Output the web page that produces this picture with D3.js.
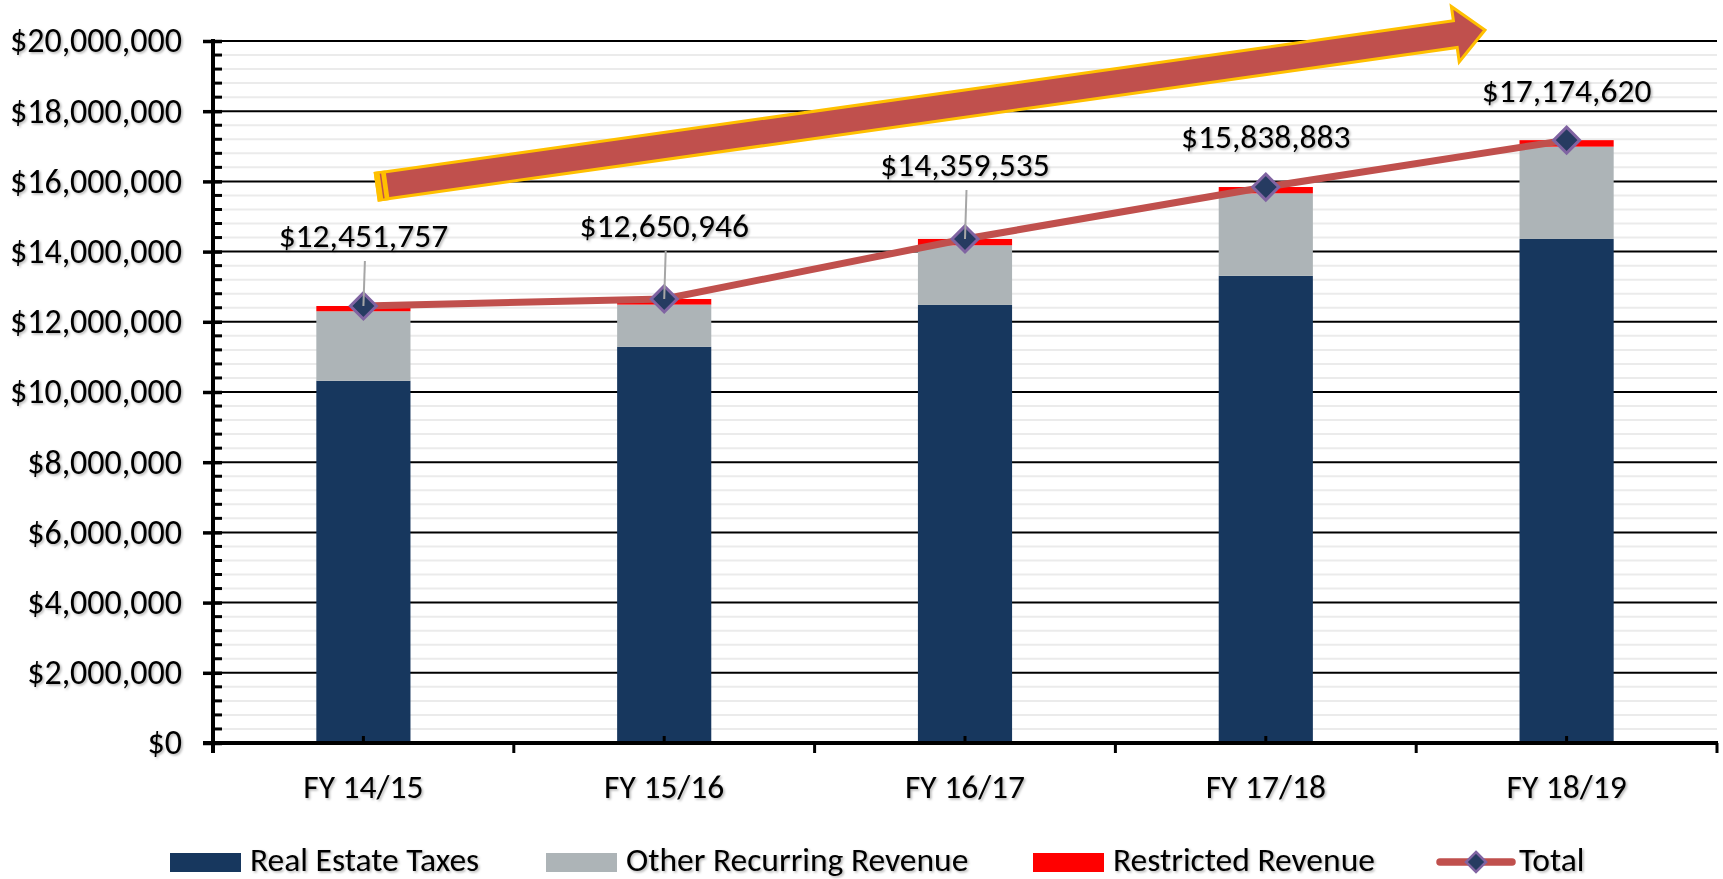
<!DOCTYPE html>
<html>
<head>
<meta charset="utf-8">
<script src="https://cdn.jsdelivr.net/npm/d3@7"></script>
<style>
body { margin: 0; background: #fff; }
text { font-family: Calibri, Carlito, "Liberation Sans", Arial, sans-serif; fill: #000; }
</style>
</head>
<body>
<script>
var w = 1723;
var h = 879;

// data
var categories = ["FY 14/15", "FY 15/16", "FY 16/17", "FY 17/18", "FY 18/19"];
var realEstate = [10320000, 11290000, 12480000, 13310000, 14360000];
var otherRecurring = [1980000, 1200000, 1700000, 2350000, 2630000];
var restricted = [150000, 160000, 180000, 180000, 185000];
var totals = [12451757, 12650946, 14359535, 15838883, 17174620];
var yTickValues = [0, 2000000, 4000000, 6000000, 8000000, 10000000, 12000000, 14000000, 16000000, 18000000, 20000000];
var seriesNames = ["Real Estate Taxes", "Other Recurring Revenue", "Restricted Revenue", "Total"];
var seriesColors = ["#17375e", "#adb4b7", "#ff0000", "#c0504d"];

// where the data labels sit above each marker (baseline offset, px)
var labelDy = [-59, -62, -63, -39, -38];

var rows = categories.map(function(c, i) {
    return {cat: c, re: realEstate[i], other: otherRecurring[i], restricted: restricted[i], total: totals[i]};
});

var x = d3.scaleBand()
    .domain(categories)
    .range([213, 1717])
    .paddingInner(0.687)
    .paddingOuter(0.3435);
var xStep = d3.scaleBand().domain(categories).range([213, 1717]); // for the boundary ticks
var y = d3.scaleLinear()
    .domain([0, 20000000])
    .range([743, 41]);
var cx = function(c) { return x(c) + x.bandwidth() / 2; };
var fmt = d3.format("$,");

var svg = d3.select("body")
    .append("svg")
    .attr("width", w)
    .attr("height", h);

var filter = svg.append("defs").append("filter")
    .attr("id", "shadow")
    .attr("x", "-10%").attr("y", "-30%")
    .attr("width", "125%").attr("height", "170%");
filter.append("feDropShadow")
    .attr("dx", 1.5).attr("dy", 1.5)
    .attr("stdDeviation", 1)
    .attr("flood-color", "#000")
    .attr("flood-opacity", 0.3);

// gridlines
var minorVals = d3.range(400000, 20000000, 400000).filter(function(v) { return v % 2000000 !== 0; });
svg.append("g").selectAll("line")
    .data(minorVals)
    .enter()
    .append("line")
    .attr("x1", 213).attr("x2", 1717)
    .attr("y1", function(d) { return y(d); })
    .attr("y2", function(d) { return y(d); })
    .attr("stroke", "#ebebeb")
    .attr("stroke-width", 2);

svg.append("g").selectAll("line")
    .data(yTickValues.slice(1))
    .enter()
    .append("line")
    .attr("x1", 213).attr("x2", 1717)
    .attr("y1", function(d) { return y(d); })
    .attr("y2", function(d) { return y(d); })
    .attr("stroke", "#000")
    .attr("stroke-width", 2);

// stacked bars
var stack = d3.stack().keys(["re", "other", "restricted"]);
var layers = stack(rows);
svg.append("g").selectAll("g")
    .data(layers)
    .enter()
    .append("g")
    .attr("fill", function(d, i) { return seriesColors[i]; })
    .selectAll("rect")
    .data(function(d) { return d; })
    .enter()
    .append("rect")
    .attr("x", function(d) { return x(d.data.cat); })
    .attr("y", function(d) { return y(d[1]); })
    .attr("width", x.bandwidth())
    .attr("height", function(d) { return y(d[0]) - y(d[1]); });

// y axis
var yAxis = svg.append("g")
    .attr("transform", "translate(213,0)")
    .call(d3.axisLeft(y).tickValues(yTickValues).tickFormat(fmt).tickSize(10).tickPadding(21));
yAxis.select(".domain").remove();
yAxis.attr("font-family", null).attr("font-size", 34);
yAxis.selectAll(".tick line").attr("x1", 9).attr("stroke", "#000").attr("stroke-width", 3.5);
yAxis.selectAll("text").attr("filter", "url(#shadow)");

svg.append("g").selectAll("line")
    .data(minorVals)
    .enter()
    .append("line")
    .attr("x1", 213).attr("x2", 222)
    .attr("y1", function(d) { return y(d); })
    .attr("y2", function(d) { return y(d); })
    .attr("stroke", "#000")
    .attr("stroke-width", 3);

svg.append("line")
    .attr("x1", 213).attr("x2", 213)
    .attr("y1", 39).attr("y2", 753)
    .attr("stroke", "#000")
    .attr("stroke-width", 4);

// x axis
var xAxis = svg.append("g")
    .attr("transform", "translate(0,743)")
    .call(d3.axisBottom(x).tickSizeInner(-7).tickSizeOuter(0).tickPadding(31));
xAxis.select(".domain").remove();
xAxis.attr("font-family", null).attr("font-size", 33.5);
xAxis.selectAll(".tick line").attr("stroke", "#000").attr("stroke-width", 3);
xAxis.selectAll("text").attr("filter", "url(#shadow)");

svg.append("g").selectAll("line")
    .data(categories)
    .enter()
    .append("line")
    .attr("x1", function(d) { return xStep(d) + xStep.step(); })
    .attr("x2", function(d) { return xStep(d) + xStep.step(); })
    .attr("y1", 743).attr("y2", 753)
    .attr("stroke", "#000")
    .attr("stroke-width", 3);

svg.append("line")
    .attr("x1", 203).attr("x2", 1718)
    .attr("y1", 743).attr("y2", 743)
    .attr("stroke", "#000")
    .attr("stroke-width", 4);

// total line
var line = d3.line()
    .x(function(d) { return cx(d.cat); })
    .y(function(d) { return y(d.total); });
svg.append("path")
    .datum(rows)
    .attr("d", line)
    .attr("fill", "none")
    .attr("stroke", seriesColors[3])
    .attr("stroke-width", 7)
    .attr("stroke-linejoin", "round");

var diamond = function(r) { return "M0," + (-r) + "L" + r + ",0L0," + r + "L" + (-r) + ",0Z"; };
svg.append("g").selectAll("path")
    .data(rows)
    .enter()
    .append("path")
    .attr("d", diamond(13))
    .attr("transform", function(d) { return "translate(" + cx(d.cat) + "," + y(d.total) + ")"; })
    .attr("fill", "#263b61")
    .attr("stroke", "#8064a2")
    .attr("stroke-width", 3);

// leader lines + data labels
svg.append("g").selectAll("line")
    .data(rows.filter(function(d, i) { return labelDy[i] < -50; }))
    .enter()
    .append("line")
    .attr("x1", function(d) { return cx(d.cat) + 1.5; })
    .attr("x2", function(d) { return cx(d.cat); })
    .attr("y1", function(d) { return y(d.total) + labelDy[categories.indexOf(d.cat)] + 14; })
    .attr("y2", function(d) { return y(d.total); })
    .attr("stroke", "#a6a6a6")
    .attr("stroke-width", 2);

svg.append("g").selectAll("text")
    .data(rows)
    .enter()
    .append("text")
    .attr("x", function(d) { return cx(d.cat); })
    .attr("y", function(d, i) { return y(d.total) + labelDy[i]; })
    .attr("text-anchor", "middle")
    .attr("font-size", 33.5)
    .attr("filter", "url(#shadow)")
    .text(function(d) { return fmt(d.total); });

// trend arrow
var tail = [377.2, 186.7], tip = [1485, 30];
var ang = Math.atan2(tip[1] - tail[1], tip[0] - tail[0]) * 180 / Math.PI;
var len = Math.hypot(tip[0] - tail[0], tip[1] - tail[1]);
var hs = 13.5, hl = 30, hw = 28;
var arrow = svg.append("g")
    .attr("transform", "translate(" + tail[0] + "," + tail[1] + ") rotate(" + ang + ")");
arrow.append("path")
    .attr("d", "M0," + (-hs) + "L" + (len - hl) + "," + (-hs) + "L" + (len - hl) + "," + (-hw) +
        "L" + len + ",0L" + (len - hl) + "," + hw + "L" + (len - hl) + "," + hs + "L0," + hs + "Z")
    .attr("fill", "#c0504d")
    .attr("stroke", "#ffc000")
    .attr("stroke-width", 3)
    .attr("stroke-linejoin", "miter");
arrow.append("rect")
    .attr("x", -1.5).attr("y", -hs - 1.5)
    .attr("width", 12).attr("height", 2 * hs + 3)
    .attr("fill", "#ffc000");
arrow.append("line")
    .attr("x1", 5).attr("x2", 5)
    .attr("y1", -hs + 1).attr("y2", hs - 1)
    .attr("stroke", "#c0504d")
    .attr("stroke-width", 1.5);

// legend
var legendX = [170, 546, 1033, 1437];
var legend = svg.append("g").selectAll("g")
    .data(seriesNames)
    .enter()
    .append("g")
    .attr("transform", function(d, i) { return "translate(" + legendX[i] + ",0)"; });
legend.filter(function(d, i) { return i < 3; })
    .append("rect")
    .attr("x", 0).attr("y", 853)
    .attr("width", 71).attr("height", 19)
    .attr("fill", function(d, i) { return seriesColors[i]; });
var tot = legend.filter(function(d, i) { return i === 3; });
tot.append("line")
    .attr("x1", 3).attr("x2", 75)
    .attr("y1", 862).attr("y2", 862)
    .attr("stroke", seriesColors[3])
    .attr("stroke-width", 7.5)
    .attr("stroke-linecap", "round");
tot.append("path")
    .attr("d", diamond(10))
    .attr("transform", "translate(39,862)")
    .attr("fill", "#263b61")
    .attr("stroke", "#8064a2")
    .attr("stroke-width", 2.5);
legend.append("text")
    .attr("x", function(d, i) { return i < 3 ? 80 : 82; })
    .attr("y", 871)
    .attr("font-size", 33.5)
    .attr("filter", "url(#shadow)")
    .text(function(d) { return d; });
</script>
</body>
</html>
